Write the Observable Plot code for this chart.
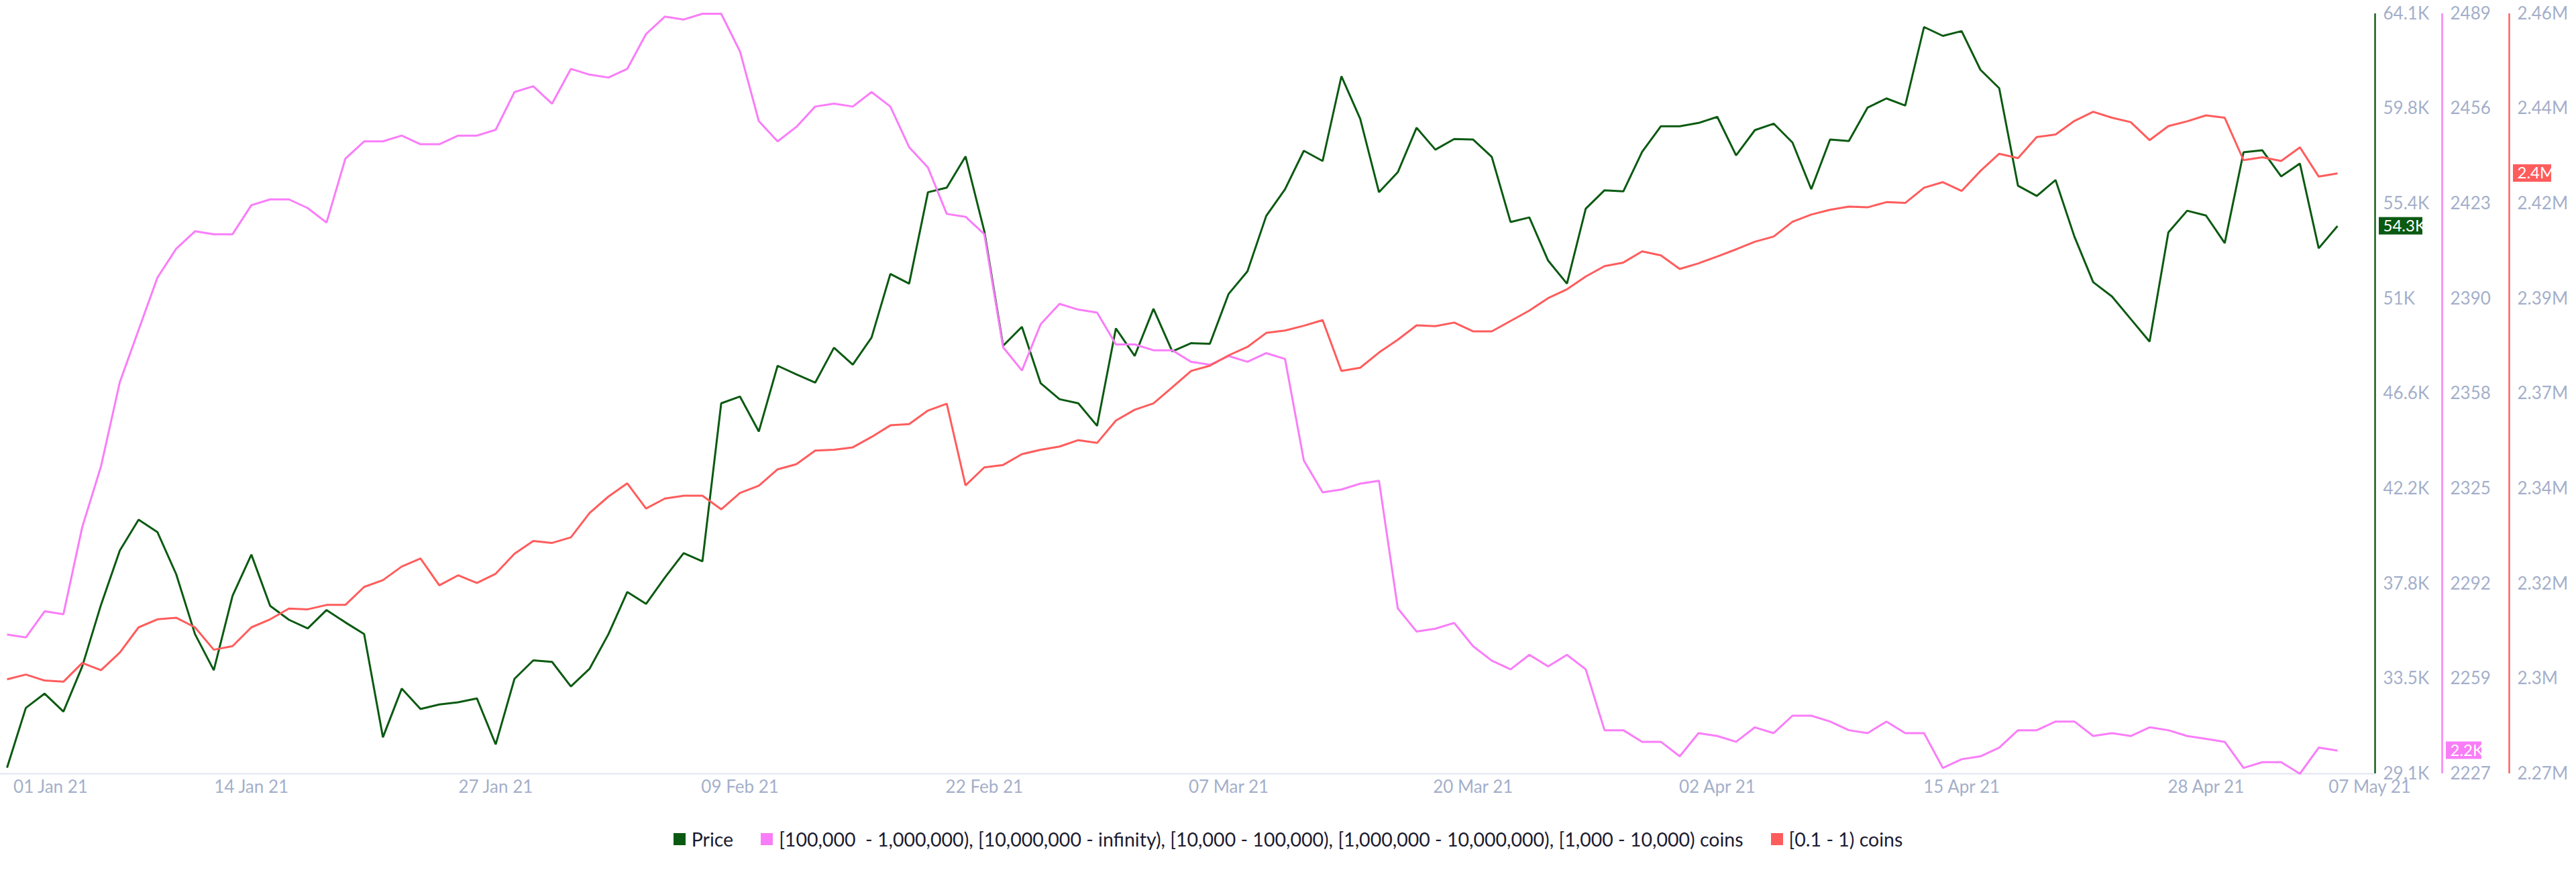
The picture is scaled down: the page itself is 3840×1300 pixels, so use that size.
<!DOCTYPE html>
<html>
<head>
<meta charset="utf-8">
<script src="https://cdn.jsdelivr.net/npm/d3@7"></script>
<script src="https://cdn.jsdelivr.net/npm/@observablehq/plot@0.6"></script>
<style>
  html, body { margin: 0; background: #fff; }
  body { width: 3840px; height: 1300px; overflow: hidden; font-family: Lato, sans-serif; }
  #chart svg { display: block; }
  #legend { display: flex; justify-content: center; align-items: center; gap: 41px; height: 36px; margin-top: 23px; font-size: 28.5px; color: #1c1c30; white-space: pre; }
  #legend .item { display: flex; align-items: center; gap: 9px; }
  #legend .sw { width: 18px; height: 18px; display: inline-block; }
</style>
</head>
<body>
<div id="chart"></div>
<div id="legend"></div>
<script>
const startDate = "2021-01-01";
const endDate = "2021-05-07";

// Price, thousands of USD, one value per day from 1 Jan 2021
const priceK = [29.38,32.13,32.79,31.96,34.04,36.88,39.38,40.80,40.23,38.29,35.53,33.87,37.30,39.19,36.83,36.19,35.79,36.64,36.07,35.53,
30.78,33.02,32.08,32.29,32.39,32.57,30.45,33.47,34.32,34.25,33.12,33.94,35.53,37.47,36.92,38.13,39.26,38.88,46.16,46.47,
44.86,47.89,47.49,47.11,48.72,47.94,49.19,52.12,51.67,55.88,56.09,57.53,54.08,48.81,49.68,47.08,46.35,46.16,45.12,49.61,
48.34,50.51,48.55,48.93,48.90,51.20,52.24,54.79,56.02,57.79,57.32,61.22,59.26,55.88,56.80,58.85,57.84,58.33,58.31,57.51,
54.51,54.72,52.73,51.67,55.12,55.97,55.92,57.74,58.92,58.92,59.07,59.35,57.58,58.74,59.04,58.17,56.02,58.31,58.24,59.78,
60.20,59.87,63.49,63.08,63.30,61.52,60.67,56.18,55.71,56.44,53.84,51.74,51.08,50.04,49.00,54.03,55.03,54.81,53.54,57.72,
57.81,56.61,57.20,53.30,54.32];

// Addresses holding the large-balance cohorts
const whaleCount = [2275,2274,2283,2282,2312,2333,2362,2380,2398,2408,2414,2413,2413,2423,2425,2425,2422,2417,2439,2445,
2445,2447,2444,2444,2447,2447,2449,2462,2464,2458,2470,2468,2467,2470,2482,2488,2487,2489,2489,2476,
2452,2445,2450,2457,2458,2457,2462,2457,2443,2436,2420,2419,2413,2374,2366,2382,2389,2387,2386,2375,
2375,2373,2373,2369,2368,2371,2369,2372,2370,2335,2324,2325,2327,2328,2284,2276,2277,2279,2271,2266,
2263,2268,2264,2268,2263,2242,2242,2238,2238,2233,2241,2240,2238,2243,2241,2247,2247,2245,2242,2241,
2245,2241,2241,2229,2232,2233,2236,2242,2242,2245,2245,2240,2241,2240,2243,2242,2240,2239,2238,2229,
2231,2231,2227,2236,2235];

// Addresses holding 0.1 - 1 coins, thousands
const smallK = [2293.6,2294.8,2293.3,2293.0,2297.7,2295.9,2300.3,2306.6,2308.6,2309.0,2306.6,2301.0,2301.9,2306.6,2308.6,2311.3,2311.1,2312.2,2312.2,2316.7,
2318.4,2321.8,2323.8,2317.1,2319.6,2317.7,2320.0,2325.0,2328.2,2327.7,2329.1,2335.2,2339.3,2342.6,2336.3,2338.8,2339.5,2339.5,2336.1,2340.2,
2342.0,2346.1,2347.4,2350.8,2351.0,2351.6,2354.2,2357.1,2357.4,2360.8,2362.5,2342.1,2346.6,2347.2,2349.9,2351.0,2351.8,2353.4,2352.7,2358.3,
2361.0,2362.6,2366.6,2370.7,2372.0,2374.6,2376.7,2380.2,2380.8,2382.0,2383.4,2370.7,2371.5,2375.3,2378.5,2382.1,2381.9,2382.8,2380.6,2380.6,
2383.2,2385.8,2388.9,2391.1,2394.3,2396.9,2397.8,2400.6,2399.6,2396.2,2397.6,2399.3,2401.1,2403.0,2404.3,2408.0,2409.8,2411.0,2411.8,2411.6,
2412.9,2412.7,2416.5,2417.9,2415.7,2420.7,2425.0,2423.9,2429.2,2429.8,2433.2,2435.5,2434.0,2432.9,2428.4,2431.9,2433.1,2434.6,2434.0,2423.4,
2424.1,2423.2,2426.6,2419.3,2420.1];

const priceTicks = ["29.1K","33.5K","37.8K","42.2K","46.6K","51K","55.4K","59.8K","64.1K"];
const whaleTicks = ["2227","2259","2292","2325","2358","2390","2423","2456","2489"];
const smallTicks = ["2.27M","2.3M","2.32M","2.34M","2.37M","2.39M","2.42M","2.44M","2.46M"];
const dateTicks = ["2021-01-14","2021-01-27","2021-02-09","2021-02-22","2021-03-07","2021-03-20","2021-04-02","2021-04-15","2021-04-28"];

const priceName = "Price";
const whaleName = "[100,000  - 1,000,000), [10,000,000 - infinity), [10,000 - 100,000), [1,000,000 - 10,000,000), [1,000 - 10,000) coins";
const smallName = "[0.1 - 1) coins";
const green = "#0b5a12", pink = "#f97df8", red = "#ff5c5c";
const labelGrey = "#a4afca", baseGrey = "#e6e9f2";

const parse = d3.utcParse("%Y-%m-%d");
const fmt = d3.utcFormat("%d %b %y");
const t0 = parse(startDate), t1 = parse(endDate);
const days = priceK.map((_, i) => d3.utcDay.offset(t0, i));

const yMin = 29.1, yMax = 64.1;
const whaleToY = d3.scaleLinear([2227, 2489], [yMin, yMax]);
const smallToY = d3.scaleLinear([2270, 2460], [yMin, yMax]);

const priceRows = days.map((date, i) => ({date, y: priceK[i]}));
const whaleRows = days.map((date, i) => ({date, y: whaleToY(whaleCount[i])}));
const smallRows = days.map((date, i) => ({date, y: smallToY(smallK[i])}));
const tickPos = d3.range(priceTicks.length).map(i => yMin + (yMax - yMin) * i / (priceTicks.length - 1));

const fontSize = 26;
const line = (rows, stroke) => Plot.line(rows, {x: "date", y: "y", stroke, strokeWidth: 3, strokeLinejoin: "miter", strokeLinecap: "butt", curve: "linear"});
const spine = (dx, stroke) => Plot.ruleX([t1], {dx, stroke, strokeWidth: 2.4});
const yAxis = (labels, dx) => Plot.axisY(tickPos, {anchor: "right", tickSize: 0, tickPadding: 12, dx, label: null, fill: labelGrey, fontSize, tickFormat: (d, i) => labels[i]});
const tag = (rows, text, dx, width, fill) => {
  const last = [rows[rows.length - 1]];
  return [
    Plot.rect(last, {x1: () => t1, x2: () => t1, y1: "y", y2: "y", dx, insetLeft: 0, insetRight: -width, insetTop: -13, insetBottom: -13, fill}),
    Plot.text(last, {x: () => t1, y: "y", text: () => text, dx: dx + 6, textAnchor: "start", fill: "white", fontSize: 24})
  ];
};

const chart = Plot.plot({
  width: 3840,
  height: 1210,
  marginTop: 20,
  marginBottom: 57,
  marginLeft: 10,
  marginRight: 300,
  style: {fontFamily: "Lato, sans-serif", background: "white"},
  x: {type: "utc", domain: [t0, t1], label: null, axis: null},
  y: {domain: [yMin, yMax], label: null, axis: null},
  marks: [
    Plot.ruleY([yMin], {stroke: baseGrey, strokeWidth: 2.4, insetLeft: -10}),
    line(priceRows, green),
    line(whaleRows, pink),
    line(smallRows, red),
    spine(0, green), spine(100, pink), spine(200, red),
    yAxis(priceTicks, 0), yAxis(whaleTicks, 100), yAxis(smallTicks, 200),
    Plot.axisX(dateTicks.map(parse), {tickSize: 0, tickPadding: 10, label: null, fill: labelGrey, fontSize, tickFormat: fmt}),
    Plot.axisX([t0], {tickSize: 0, tickPadding: 10, label: null, fill: labelGrey, fontSize, tickFormat: fmt, dx: 65}),
    Plot.axisX([t1], {tickSize: 0, tickPadding: 10, label: null, fill: labelGrey, fontSize, tickFormat: fmt, dx: -8}),
    ...tag(priceRows, "54.3K", 6, 65, green),
    ...tag(whaleRows, "2.2K", 106, 53, pink),
    ...tag(smallRows, "2.4M", 206, 57, red)
  ]
});
document.getElementById("chart").appendChild(chart);

const legend = d3.select("#legend");
[[priceName, green], [whaleName, pink], [smallName, red]].forEach(([name, colour]) => {
  const item = legend.append("div").attr("class", "item");
  item.append("span").attr("class", "sw").style("background", colour);
  item.append("span").text(name);
});
</script>
</body>
</html>
